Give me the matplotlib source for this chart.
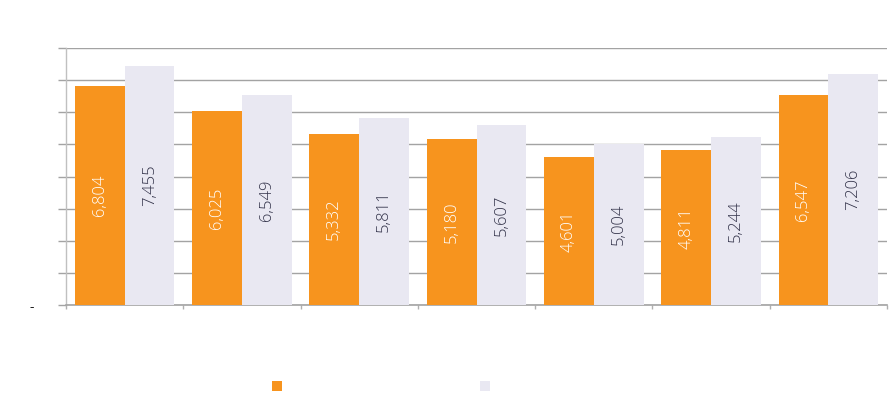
import matplotlib
matplotlib.use("Agg")
import matplotlib.pyplot as plt
import matplotlib.ticker as mticker
from matplotlib.patches import Patch
import numpy as np

# Data
series_a = [6804, 6025, 5332, 5180, 4601, 4811, 6547]
series_b = [7455, 6549, 5811, 5607, 5004, 5244, 7206]
series_names = ["", ""]  # legend text not visible in reference

ORANGE = "#F7941E"
LAVENDER = "#E9E8F2"
GRID = "#A3A3A3"
DARK = "#33334A"

plt.rcParams['font.family'] = ['Open Sans', 'DejaVu Sans']

fig = plt.figure(figsize=(8.89, 3.96), dpi=100)
ax = fig.add_axes([66/889, (396-305)/396, (887-66)/889, (305-48)/396])

x = np.arange(len(series_a))
w = 0.425
bars_a = ax.bar(x - w/2, series_a, width=w, color=ORANGE, zorder=3)
bars_b = ax.bar(x + w/2, series_b, width=w, color=LAVENDER, zorder=3)

for b, v in zip(bars_a, series_a):
    ax.text(b.get_x() + b.get_width()/2, v/2, f"{v:,}", rotation=90,
            ha="center", va="center", color="white", fontsize=12,
            fontweight="light", zorder=4)
for b, v in zip(bars_b, series_b):
    ax.text(b.get_x() + b.get_width()/2, v/2, f"{v:,}", rotation=90,
            ha="center", va="center", color=DARK, fontsize=12,
            fontweight="light", zorder=4)

ax.set_xlim(-0.5, len(series_a) - 0.5)
ax.set_ylim(0, 8000)
ax.yaxis.set_major_locator(mticker.MultipleLocator(1000))
ax.yaxis.set_major_formatter(mticker.FuncFormatter(lambda v, p: "-" if v == 0 else ""))
ax.grid(axis="y", color=GRID, linewidth=1.0, zorder=0)
ax.set_axisbelow(True)

ax.set_xticks(np.arange(-0.5, len(series_a), 1.0))
ax.set_xticklabels([])
ax.tick_params(axis="x", direction="out", length=3, width=1, color="#B0B0B0")
ax.tick_params(axis="y", direction="out", length=6, width=1, color=GRID,
               pad=17, labelsize=10, labelcolor="#222222")

for s in ["top", "right"]:
    ax.spines[s].set_visible(False)
ax.spines["left"].set_color("#C0C0C0")
ax.spines["bottom"].set_color(GRID)
ax.spines["left"].set_linewidth(1.0)
ax.spines["bottom"].set_linewidth(1.2)

handles = [Patch(facecolor=ORANGE), Patch(facecolor=LAVENDER)]
fig.legend(handles, series_names, loc="center", bbox_to_anchor=(381/889, 1 - 387.5/396),
           ncol=2, frameon=False, fontsize=10, handlelength=0.75, handleheight=0.75,
           handletextpad=0, columnspacing=14.2)

fig.savefig("out.png", dpi=100)
